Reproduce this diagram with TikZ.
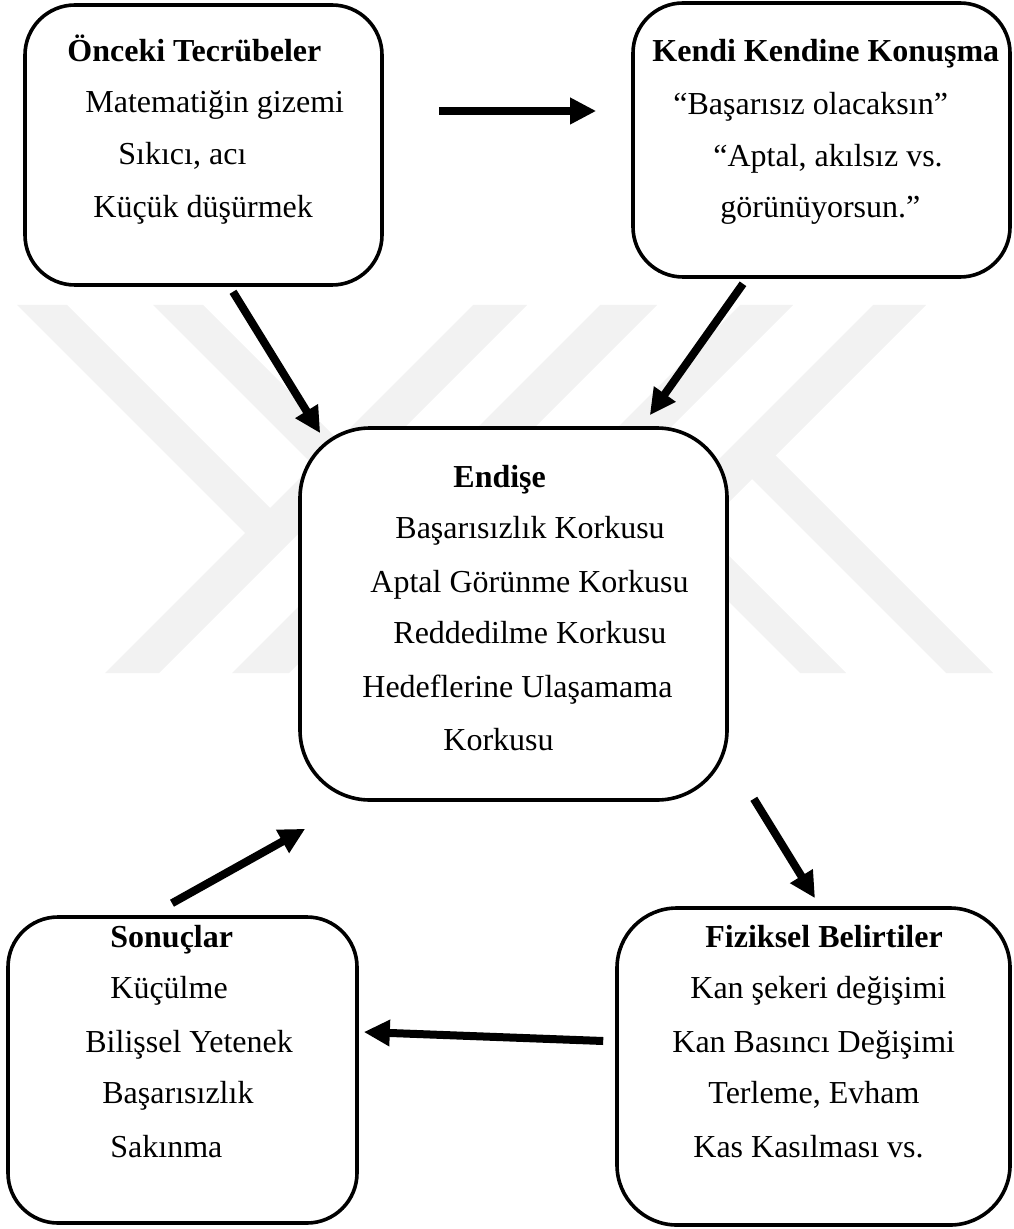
\documentclass[tikz,border=0pt]{standalone}
\usepackage{fontspec}
\setmainfont{Liberation Serif}
\usetikzlibrary{arrows.meta,calc}

\tikzset{
  kutu/.style={draw,line width=1.8pt,rounded corners=25pt,inner sep=0pt,fill=white},
  satir/.style={anchor=base west,inner sep=0pt,font=\fontsize{16}{19}\selectfont},
  baslik/.style={satir,font=\fontsize{16}{19}\selectfont\bfseries},
  ok/.style={line width=4pt,-{Triangle[length=13pt,width=12.5pt]}},
  filigran/.style={fill=black!5}
}

\begin{document}
\begin{tikzpicture}[x=0.5pt,y=-0.5pt]
\useasboundingbox (0,0) rectangle (1013,1229);

% the faint watermark stripes
\fill[filigran] (473,305) -- (527,305) -- (159,673) -- (105,673) -- cycle;
\fill[filigran] (17,305) -- (67,305) -- (297,535) -- (247,535) -- cycle;
\fill[filigran] (600,305) -- (657,305) -- (289,673) -- (232,673) -- cycle;
\fill[filigran] (153,305) -- (203,305) -- (428,530) -- (378,530) -- cycle;
\fill[filigran] (873,305) -- (926,305) -- (558,673) -- (505,673) -- cycle;
\fill[filigran] (727,454) -- (774,454) -- (993,673) -- (946,673) -- cycle;
\fill[filigran] (740,305) -- (793,305) -- (425,673) -- (372,673) -- cycle;
\fill[filigran] (587,460) -- (633,460) -- (846,673) -- (800,673) -- cycle;

% the boxes
\node[kutu,minimum width=178.5pt,minimum height=140pt] (onceki) at (203.5,145) {};
\node[kutu,minimum width=188.5pt,minimum height=137pt] (kendi) at (821.5,140) {};
\node[kutu,rounded corners=35pt,minimum width=213.5pt,minimum height=186pt] (endise) at (513.5,614) {};
\node[kutu,minimum width=174.5pt,minimum height=153pt] (sonuclar) at (182.5,1070) {};
\node[kutu,rounded corners=30pt,minimum width=196.5pt,minimum height=158.5pt] (fiziksel) at (813.5,1066.5) {};

% titles
\node[baslik] (onceki-b) at (67,62) {Önceki Tecrübeler};
\node[baslik] (kendi-b) at (652,62) {Kendi Kendine Konuşma};
\node[baslik] (endise-b) at (453,487) {Endişe};
\node[baslik] (sonuclar-b) at (110,947) {Sonuçlar};
\node[baslik] (fiziksel-b) at (705,947) {Fiziksel Belirtiler};

% lines of text
\foreach \x/\y/\metin [count=\i] in {85/113/Matematiğin gizemi,118/165/{Sıkıcı, acı},93/218/Küçük düşürmek}
  \node[satir] (onceki-\i) at (\x,\y) {\metin};
\foreach \x/\y/\metin [count=\i] in {673/115/“Başarısız olacaksın”,713/167/{“Aptal, akılsız vs.},720/218/görünüyorsun.”}
  \node[satir] (kendi-\i) at (\x,\y) {\metin};
\foreach \x/\y/\metin [count=\i] in {395/538/Başarısızlık Korkusu,370/592/Aptal Görünme Korkusu,393/643/Reddedilme Korkusu,362/697/Hedeflerine Ulaşamama,443/750/Korkusu}
  \node[satir] (endise-\i) at (\x,\y) {\metin};
\foreach \x/\y/\metin [count=\i] in {110/998/Küçülme,85/1052/Bilişsel Yetenek,102/1103/Başarısızlık,110/1157/Sakınma}
  \node[satir] (sonuclar-\i) at (\x,\y) {\metin};
\foreach \x/\y/\metin [count=\i] in {690/998/Kan şekeri değişimi,672/1052/Kan Basıncı Değişimi,708/1103/{Terleme, Evham},693/1157/Kas Kasılması vs.}
  \node[satir] (fiziksel-\i) at (\x,\y) {\metin};

% the arrows
\draw[ok] ($(onceki.east)+(55,-34)$) -- ($(kendi.west)+(-35,-29)$);
\draw[ok] ($(onceki.south)+(29.5,5)$) -- ($(endise.north west)+(22,7)$);
\draw[ok] ($(kendi.south)+(-78.5,5)$) -- ($(endise.north east)+(-79,-11)$);
\draw[ok] ($(endise.south east)+(25,-3)$) -- ($(fiziksel.north)+(1.5,-8)$);
\draw[ok] ($(fiziksel.west)+(-12,-25.5)$) -- ($(sonuclar.east)+(5,-38)$);
\draw[ok] ($(sonuclar.north)+(-10.5,-12)$) -- ($(endise.south west)+(7,27)$);
\end{tikzpicture}
\end{document}
